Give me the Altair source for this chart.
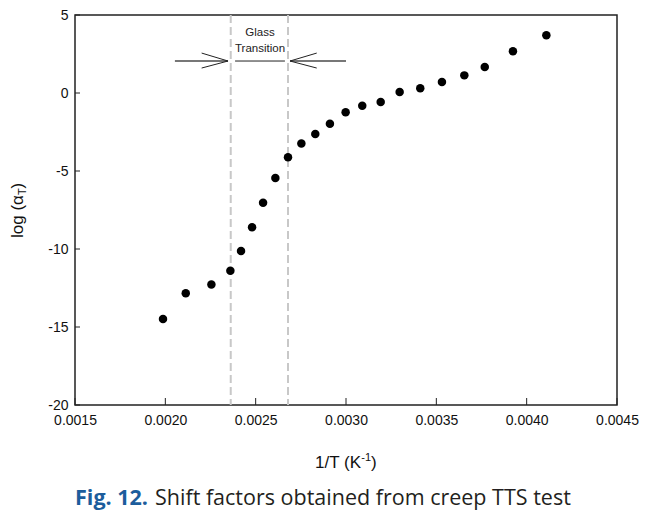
import altair as alt
import pandas as pd

# ---- data ----
inv_T = [0.001987, 0.002113, 0.002255, 0.002360, 0.002419, 0.002480, 0.002541,
         0.002609, 0.002679, 0.002753, 0.002830, 0.002911, 0.002998, 0.003090,
         0.003192, 0.003297, 0.003411, 0.003531, 0.003655, 0.003768, 0.003924,
         0.004109]
log_aT = [-14.49, -12.84, -12.27, -11.39, -10.13, -8.61, -7.03, -5.45, -4.12,
          -3.23, -2.63, -1.97, -1.24, -0.81, -0.58, 0.06, 0.30, 0.71, 1.13,
          1.67, 2.67, 3.70]

glass_bounds = [0.002362, 0.002679]
x_ticks = [0.0015, 0.0020, 0.0025, 0.0030, 0.0035, 0.0040, 0.0045]
y_ticks = [-20, -15, -10, -5, 0, 5]

# annotation geometry (data units)
arrow_y = 2.05
shaft_x1 = [0.002053, 0.002690]
shaft_x2 = [0.002347, 0.003000]
barb_x1 = [0.002201, 0.002201, 0.002838, 0.002838]
barb_y1 = [2.56, 1.60, 2.56, 1.60]
barb_x2 = [0.002347, 0.002347, 0.002690, 0.002690]
mid_x = [0.002386, 0.002662]
label_x = 0.002524
label_lines = ["Glass", "Transition"]
label_y = [3.85, 2.82]

W, H = 542, 390
FONT = "Liberation Sans"

xs = alt.Scale(domain=[0.0015, 0.0045], nice=False, zero=False)
ys = alt.Scale(domain=[-20, 5], nice=False, zero=False)

x_axis = alt.Axis(values=x_ticks, format=".4f", title=None, grid=False,
                  ticks=False, domain=False, labelFont=FONT,
                  labelFontSize=14, labelColor="#111", labelPadding=8,
                  labelFlush=False, labelOverlap=False)
y_axis = alt.Axis(values=y_ticks, labelExpr="toString(datum.value)",
                  title=None, grid=False,
                  ticks=False, domain=False, labelFont=FONT,
                  labelFontSize=14, labelColor="#111", labelPadding=7,
                  labelFlush=False, labelOverlap=False)


def X(f):
    return alt.X(f, type="quantitative", scale=xs, axis=x_axis)


def Y(f):
    return alt.Y(f, type="quantitative", scale=ys, axis=y_axis)


pts_df = pd.DataFrame({"x": inv_T, "y": log_aT})
points = alt.Chart(pts_df).mark_circle(size=72, color="black", opacity=1).encode(
    x=X("x"), y=Y("y"))

glass_df = pd.DataFrame({"x": glass_bounds})
glass = alt.Chart(glass_df).mark_rule(color="#c8c8c8", strokeWidth=2,
                                      strokeDash=[8, 4]).encode(
    x=X("x"), y=alt.value(0), y2=alt.value(H))

shaft_df = pd.DataFrame({"x1": shaft_x1, "x2": shaft_x2, "y": [arrow_y] * 2})
shafts = alt.Chart(shaft_df).mark_rule(color="#777", strokeWidth=2).encode(
    x=X("x1"), x2="x2:Q", y=Y("y"))

barb_df = pd.DataFrame({"x1": barb_x1, "y1": barb_y1, "x2": barb_x2,
                        "y2": [arrow_y] * 4})
barbs = alt.Chart(barb_df).mark_rule(color="#222", strokeWidth=1).encode(
    x=X("x1"), x2="x2:Q", y=Y("y1"), y2="y2:Q")

mid_df = pd.DataFrame({"x1": [mid_x[0]], "x2": [mid_x[1]], "y": [arrow_y]})
mid = alt.Chart(mid_df).mark_rule(color="#222", strokeWidth=1).encode(
    x=X("x1"), x2="x2:Q", y=Y("y"))

lab_df = pd.DataFrame({"x": [label_x] * 2, "y": label_y, "t": label_lines})
labels = alt.Chart(lab_df).mark_text(font=FONT, fontSize=11.5, color="#222",
                                     baseline="middle").encode(
    x=X("x"), y=Y("y"), text="t:N")

xt_df = pd.DataFrame({"x": x_ticks})
xtick_marks = alt.Chart(xt_df).mark_rule(color="#222", strokeWidth=1).encode(
    x=X("x"), y=alt.value(H), y2=alt.value(H - 7))

yt_df = pd.DataFrame({"y": y_ticks})
ytick_marks = alt.Chart(yt_df).mark_rule(color="#222", strokeWidth=1).encode(
    y=Y("y"), x=alt.value(0), x2=alt.value(5))


def txt(s, x, y, size, **kw):
    return alt.Chart(pd.DataFrame({"a": [0]})).mark_text(
        text=s, fontSize=size, **kw).encode(x=alt.value(x), y=alt.value(y))


TS = 17
# x-axis title: 1/T (K^-1)
xt0 = 240
xtitle = [
    txt("1/T (K", xt0, 453, TS, font=FONT, align="left", baseline="alphabetic", color="#111"),
    txt("-1", xt0 + 46.3, 446, 11, font=FONT, align="left", baseline="alphabetic", color="#111"),
    txt(")", xt0 + 56.1, 453, TS, font=FONT, align="left", baseline="alphabetic", color="#111"),
]
# y-axis title: log (alpha_T)
yt0 = 223
ytitle = [
    txt("log (α", -52, yt0, TS, font=FONT, angle=270, align="left", baseline="alphabetic", color="#111"),
    txt("T", -49, yt0 - 42.9, 11, font=FONT, angle=270, align="left", baseline="alphabetic", color="#111"),
    txt(")", -52, yt0 - 49.6, TS, font=FONT, angle=270, align="left", baseline="alphabetic", color="#111"),
]
caption = [
    txt("Fig. 12.", 73, 490, 21.5, font="Open Sans", fontWeight="bold",
        align="right", baseline="alphabetic", color="#1c5d9c"),
    txt("Shift factors obtained from creep TTS test", 80, 490, 21.5,
        font="Open Sans", align="left", baseline="alphabetic", color="#231f20"),
]

chart = alt.layer(
    glass, shafts, barbs, mid, labels, xtick_marks, ytick_marks, points,
    *xtitle, *ytitle, *caption
).properties(
    width=W, height=H,
    autosize=alt.AutoSizeParams(type="none"),
    padding={"left": 67, "top": 7, "right": 34, "bottom": 108},
).configure_view(stroke="#222", strokeWidth=1.5)

chart.save("out.html", embed_options={"renderer": "svg", "actions": False})
